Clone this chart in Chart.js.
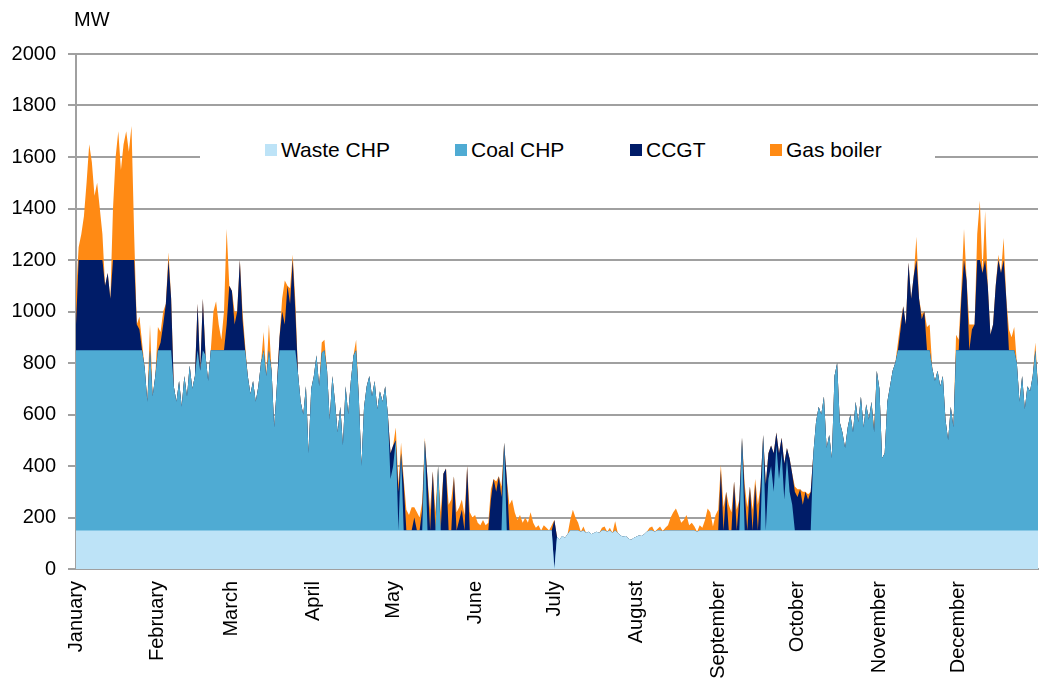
<!DOCTYPE html>
<html>
<head>
<meta charset="utf-8">
<title>Heat production by source</title>
<script src="https://cdn.jsdelivr.net/npm/chart.js@4.4.1/dist/chart.umd.min.js"></script>
<style>
  body { margin:0; background:#fff; font-family:"Liberation Sans", Arial, sans-serif; }
  #wrap { position:relative; width:1039px; height:688px; }
  #unit { position:absolute; left:74px; top:9px; font-size:20px; line-height:20px; color:#000; }
  #legend { position:absolute; left:200px; top:134px; width:735px; height:34px; background:#fff; }
  .item { position:absolute; top:0; height:34px; }
  .swatch { position:absolute; top:10px; left:0; width:12px; height:12px; }
  .label { position:absolute; top:5px; left:16px; font-size:21px; line-height:21px; white-space:nowrap; color:#000; }
</style>
</head>
<body>
<div id="wrap">
  <canvas id="chart" width="1039" height="688"></canvas>
  <div id="unit">MW</div>
  <div id="legend"></div>
</div>
<script>
// Daily values (MW), one row per month
const MONTHS = ['January','February','March','April','May','June','July','August','September','October','November','December'];
const MONTH_START = [0,31,59,90,120,151,181,212,243,273,304,334];
const SERIES = ['Waste CHP','Coal CHP','CCGT','Gas boiler'];
const COLORS = ['#bde3f7','#4fabd3','#001c68','#ff8a14'];

const wasteChp = [
  150,150,150,150,150,150,150,150,150,150, 150,150,150,150,150,150,150,150,150,150, 150,150,150,150,150,150,150,150,150,150, 150, // Jan
  150,150,150,150,150,150,150,150,150,150, 150,150,150,150,150,150,150,150,150,150, 150,150,150,150,150,150,150,150, // Feb
  150,150,150,150,150,150,150,150,150,150, 150,150,150,150,150,150,150,150,150,150, 150,150,150,150,150,150,150,150,150,150, 150, // Mar
  150,150,150,150,150,150,150,150,150,150, 150,150,150,150,150,150,150,150,150,150, 150,150,150,150,150,150,150,150,150,150, // Apr
  150,150,150,150,150,150,150,150,150,150, 150,150,150,150,150,150,150,150,150,150, 150,150,150,150,150,150,150,150,150,150, 150, // May
  150,150,150,150,150,150,150,150,150,150, 150,150,150,150,150,150,150,150,150,150, 150,150,150,150,150,150,150,150,150,150, // Jun
  0,125,115,128,120,135,150,150,150,150, 145,150,140,145,135,140,145,140,150,150, 145,150,140,150,140,130,125,128,118,113, 120, // Jul
  125,130,128,135,145,150,150,145,150,150, 148,150,150,150,150,150,150,150,150,150, 150,150,150,145,150,150,150,150,150,150, 150, // Aug
  150,150,150,150,150,150,150,150,150,150, 150,150,150,150,150,150,150,150,150,150, 150,150,150,150,150,150,150,150,150,150, // Sep
  150,150,150,150,150,150,150,150,150,150, 150,150,150,150,150,150,150,150,150,150, 150,150,150,150,150,150,150,150,150,150, 150, // Oct
  150,150,150,150,150,150,150,150,150,150, 150,150,150,150,150,150,150,150,150,150, 150,150,150,150,150,150,150,150,150,150, // Nov
  150,150,150,150,150,150,150,150,150,150, 150,150,150,150,150,150,150,150,150,150, 150,150,150,150,150,150,150,150,150,150, 150  // Dec
];

const coalChp = [
  700,700,700,700,700,700,700,700,700,700, 700,700,700,700,700,700,700,700,700,700, 700,700,700,700,700,700,630,500,700,520, 600, // Jan
  700,700,700,700,700,700,560,500,580,480, 600,520,640,550,600,700,620,700,680,580, 700,700,700,700,700,700,700,700, // Feb
  700,700,700,700,700,700,600,530,580,500, 560,650,700,600,700,620,400,560,700,700, 700,700,700,700,700,610,500,450,560,300, 550, // Mar
  600,680,560,690,700,620,430,600,500,380, 480,330,560,450,580,680,700,520,250,480, 560,600,520,580,470,540,500,560,450,200, // Apr
  250,350,0,300,0,0,0,0,0,0, 0,0,350,0,0,0,0,250,0,0, 0,0,0,0,0,0,0,0,0,0, 0, // May
  0,0,0,0,0,0,0,0,0,0, 0,340,0,0,0,0,0,0,0,0, 0,0,0,0,0,0,0,0,0,0, // Jun
  0,0,0,0,0,0,0,0,0,0, 0,0,0,0,0,0,0,0,0,0, 0,0,0,0,0,0,0,0,0,0, 0, // Jul
  0,0,0,0,0,0,0,0,0,0, 0,0,0,0,0,0,0,0,0,0, 0,0,0,0,0,0,0,0,0,0, 0, // Aug
  0,0,0,0,0,0,0,0,0,360, 0,0,0,0,0,0,0,370,0,200, 250,150,330,200,300,120,280,150,100,0, // Sep
  0,0,0,0,0,0,300,420,480,450, 520,320,370,280,600,650,420,380,320,400, 450,380,500,420,520,400,490,430,500,380, 620, // Oct
  550,280,300,500,560,620,650,700,700,700, 700,700,700,700,700,700,700,700,700,700, 630,580,620,560,600,430,350,480,400,700, // Nov
  700,700,700,700,700,700,700,700,700,700, 700,700,700,700,700,700,700,700,700,700, 700,700,650,500,600,470,560,540,600,700, 560  // Dec
];

const ccgt = [
  100,350,350,350,350,350,350,350,350,350, 350,250,300,200,350,350,350,350,350,350, 350,350,350,100,80,0,0,0,0,0, 0, // Jan
  0,30,100,180,350,200,0,0,0,0, 0,0,0,0,0,180,0,200,0,0, 0,0,0,0,0,0,100,250, // Feb
  230,100,150,350,120,0,0,0,0,0, 0,0,0,0,0,0,0,0,50,150, 100,250,180,350,150,0,0,0,0,0, 0, // Mar
  0,0,0,0,0,0,0,0,0,0, 0,0,0,0,0,0,0,0,0,0, 0,0,0,0,0,0,0,0,0,100, // Apr
  80,0,150,0,180,0,0,0,50,0, 0,80,0,200,0,230,0,0,0,220, 240,0,0,210,0,40,80,0,250,0, 0, // May
  0,0,0,0,0,0,120,200,150,210, 130,0,200,0,0,0,0,0,0,0, 0,0,0,0,0,0,0,0,0,0, // Jun
  190,0,0,0,0,0,0,0,0,0, 0,0,0,0,0,0,0,0,0,0, 0,0,0,0,0,0,0,0,0,0, 0, // Jul
  0,0,0,0,0,0,0,0,0,0, 0,0,0,0,0,0,0,0,0,0, 0,0,0,0,0,0,0,0,0,0, 0, // Aug
  0,235,0,150,0,0,190,0,120,0, 150,0,170,0,180,0,170,0,180,100, 80,150,50,100,60,140,40,130,120,150, // Sep
  130,160,100,150,120,150,0,0,0,0, 0,0,0,0,0,0,0,0,0,0, 0,0,0,0,0,0,0,0,0,0, 0, // Oct
  0,0,0,0,0,0,0,0,80,170, 100,340,200,290,350,200,120,150,0,0, 0,0,0,0,0,0,0,0,0,0, // Nov
  0,200,350,270,0,80,100,350,350,300, 350,250,60,100,250,350,300,350,200,0, 0,0,0,0,0,0,0,0,0,0, 0  // Dec
];

const gasBoiler = [
  120,50,100,170,300,450,380,250,300,200, 100,0,0,0,200,400,500,350,450,500, 420,520,100,0,50,30,0,0,100,0, 0, // Jan
  90,40,50,0,30,0,0,0,0,0, 0,0,0,0,0,0,0,0,0,0, 0,150,190,100,40,150,370,0, // Feb
  0,50,0,0,30,20,0,0,0,0, 0,0,70,0,100,0,0,0,0,50, 170,0,60,20,40,0,0,0,0,0, 0, // Mar
  0,0,0,40,40,0,0,0,0,0, 0,0,0,0,0,0,40,0,0,0, 0,0,0,0,0,0,0,0,0,0, // Apr
  0,50,30,40,20,80,60,90,40,70, 50,30,10,0,80,0,70,0,70,0, 0,100,120,0,70,50,40,60,0,70, 50, // May
  60,30,20,40,20,30,40,0,40,0, 40,0,0,100,120,70,40,60,30,50, 30,70,30,10,20,0,20,10,0,20, // Jun
  0,0,0,0,0,0,40,80,50,30, 0,15,0,0,0,0,0,0,10,15, 0,10,0,35,0,0,0,0,0,0, 0, // Jul
  0,0,0,0,0,10,15,0,5,15, 0,10,20,50,70,85,60,30,40,60, 20,30,15,0,20,10,40,85,70,15, 60, // Aug
  80,20,90,0,100,70,0,80,0,0, 30,90,0,80,20,100,0,0,0,0, 0,0,0,0,0,0,0,0,0,20, // Sep
  30,0,50,0,20,0,0,0,0,0, 0,0,0,0,0,0,0,0,0,0, 0,0,0,0,0,0,0,0,0,20, 0, // Oct
  0,0,0,0,0,0,0,30,30,0, 0,0,0,0,90,0,20,0,90,100, 0,0,0,0,0,0,0,0,0,60, // Nov
  40,40,120,0,100,20,0,100,230,0, 190,0,0,0,0,20,0,85,0,80, 50,90,0,0,0,0,0,0,0,30, 0  // Dec
];

const seriesValues = [wasteChp, coalChp, ccgt, gasBoiler];
const FONT = '"Liberation Sans", Arial, sans-serif';
const GRID = '#a0a0a0';

// HTML legend, sits on top of the plot like the original
const legendX = [65, 255, 430, 570];
const legend = document.getElementById('legend');
SERIES.forEach((name, k) => {
  const item = document.createElement('div');
  item.className = 'item';
  item.style.left = legendX[k] + 'px';
  item.innerHTML = `<span class="swatch" style="background:${COLORS[k]}"></span><span class="label">${name}</span>`;
  legend.appendChild(item);
});

// last dataset is drawn first, so each area fills down to zero and the
// next one down the stack paints over it
const datasets = SERIES.map((name, k) => ({
  label: name,
  data: seriesValues[k].map((v, i) => ({x: i, y: v})),
  backgroundColor: COLORS[k],
  borderWidth: 0,
  pointRadius: 0,
  tension: 0,
  fill: 'origin'
}));

new Chart(document.getElementById('chart'), {
  type: 'line',
  data: { datasets },
  options: {
    responsive: false,
    animation: false,
    layout: { padding: { top: 54, right: 1, left: 0, bottom: 0 } },
    plugins: { legend: { display: false }, tooltip: { enabled: false } },
    scales: {
      x: {
        type: 'linear',
        min: 0,
        max: 364,
        afterBuildTicks: s => { s.ticks = MONTH_START.map(v => ({ value: v })); },
        afterFit: s => { s.height = 119; },
        grid: { display: false, drawTicks: false },
        border: { display: true, color: GRID, width: 2 },
        ticks: {
          autoSkip: false, minRotation: 90, maxRotation: 90, padding: 12,
          color: '#000', font: { family: FONT, size: 20 },
          callback: v => MONTHS[MONTH_START.indexOf(v)]
        }
      },
      y: {
        stacked: true,
        min: 0,
        max: 2000,
        afterFit: s => { s.width = 76; },
        ticks: {
          stepSize: 200, padding: 12, color: '#000', font: { family: FONT, size: 20 },
          callback: v => String(v)
        },
        grid: { color: GRID, lineWidth: 2, tickLength: 8, drawTicks: true, tickColor: GRID },
        border: { display: true, color: GRID, width: 2 }
      }
    }
  }
});
</script>
</body>
</html>
